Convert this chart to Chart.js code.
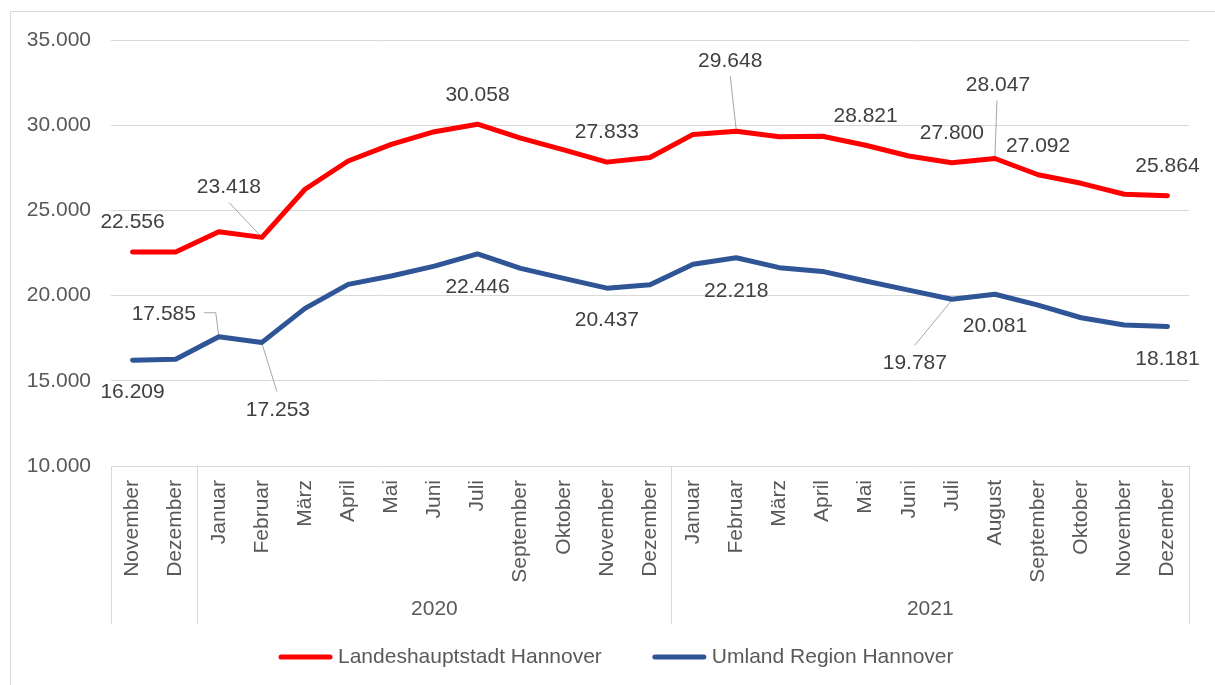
<!DOCTYPE html>
<html>
<head>
<meta charset="utf-8">
<script src="https://cdn.jsdelivr.net/npm/chart.js@4.4.0/dist/chart.umd.min.js"></script>
<style>
  html, body { margin: 0; padding: 0; background: #fff; overflow: hidden; }
</style>
</head>
<body>
<canvas id="lineChart" width="1215" height="685"></canvas>
<script>
// categories: Nov/Dez 2019, 2020 (no August in source), 2021
const months = ['November', 'Dezember',
  'Januar', 'Februar', 'März', 'April', 'Mai', 'Juni', 'Juli', 'September', 'Oktober', 'November', 'Dezember',
  'Januar', 'Februar', 'März', 'April', 'Mai', 'Juni', 'Juli', 'August', 'September', 'Oktober', 'November', 'Dezember'];

const years = [
  { label: '', from: 0, to: 1 },
  { label: '2020', from: 2, to: 12 },
  { label: '2021', from: 13, to: 24 },
];

const hannover = [22556, 22560, 23750, 23418, 26240, 27900, 28870, 29620, 30058, 29240, 28550, 27833, 28100,
  29460, 29648, 29320, 29350, 28821, 28190, 27800, 28047, 27092, 26590, 25950, 25864];
const umland = [16209, 16260, 17585, 17253, 19250, 20660, 21150, 21730, 22446, 21600, 21010, 20437, 20630,
  21840, 22218, 21640, 21420, 20860, 20320, 19787, 20081, 19440, 18700, 18270, 18181];

// which points get a value label: [dx, dy, leader line points] relative to the point
const labelPos = [
  { 0: [0, -30], 3: [-33, -50, [[-33, -35], [0, 0]]], 8: [0, -29], 11: [0, -30],
    14: [-6, -70, [[-6, -55], [0, -1]]], 17: [0, -29], 19: [0, -29],
    20: [3, -73, [[2, -58], [0, -2]]], 21: [0, -29], 24: [0, -29] },
  { 0: [0, 32], 2: [-55, -23, [[-15, -24], [-3, -24], [0, 0]]], 3: [16, 68, [[15, 49], [0, 1]]],
    8: [0, 33], 11: [0, 32], 14: [0, 33], 19: [-37, 64, [[-37, 46], [0, 1]]], 20: [0, 32], 24: [0, 33] },
];

const FONT = "'Liberation Sans', Arial, sans-serif";
Chart.defaults.font.family = FONT;
Chart.defaults.font.size = 21;
Chart.defaults.color = '#595959';

const fmt = v => String(Math.round(v)).replace(/\B(?=(\d{3})+(?!\d))/g, '.');

const sepIdx = years.map(g => g.from).concat(months.length);

const frame = {
  id: 'frame',
  beforeDraw(chart) {
    const c = chart.ctx;
    c.save();
    c.strokeStyle = '#d9d9d9';
    c.lineWidth = 1;
    c.strokeRect(10.5, 11.5, 1400, 900);
    c.restore();
  }
};

const yearLabels = {
  id: 'yearLabels',
  afterDraw(chart) {
    const x = chart.scales.x, c = chart.ctx;
    c.save();
    c.font = '21px ' + FONT;
    c.fillStyle = '#595959';
    c.textAlign = 'center';
    c.textBaseline = 'middle';
    years.forEach(g => {
      if (!g.label) return;
      const cx = (x.getPixelForValue(g.from) + x.getPixelForValue(g.to)) / 2;
      c.fillText(g.label, cx, x.top + 143);
    });
    c.restore();
  }
};

const pointLabels = {
  id: 'pointLabels',
  beforeDatasetsDraw(chart) {
    const c = chart.ctx;
    c.save();
    c.strokeStyle = '#a6a6a6';
    c.lineWidth = 1;
    chart.data.datasets.forEach((ds, di) => {
      const meta = chart.getDatasetMeta(di);
      Object.entries(labelPos[di]).forEach(([k, pos]) => {
        const p = meta.data[+k], leader = pos[2];
        if (!leader) return;
        c.beginPath();
        leader.forEach(([lx, ly], j) => j ? c.lineTo(p.x + lx, p.y + ly) : c.moveTo(p.x + lx, p.y + ly));
        c.stroke();
      });
    });
    c.restore();
  },
  afterDatasetsDraw(chart) {
    const c = chart.ctx;
    c.save();
    c.font = '21px ' + FONT;
    c.fillStyle = '#404040';
    c.textAlign = 'center';
    c.textBaseline = 'middle';
    chart.data.datasets.forEach((ds, di) => {
      const meta = chart.getDatasetMeta(di);
      Object.entries(labelPos[di]).forEach(([k, pos]) => {
        const p = meta.data[+k];
        c.fillText(fmt(ds.data[+k]), p.x + pos[0], p.y + pos[1]);
      });
    });
    c.restore();
  }
};

const legendRow = {
  id: 'legendRow',
  afterDraw(chart) {
    const c = chart.ctx, y = 657;
    let x = 278;
    c.save();
    c.font = '21px ' + FONT;
    c.textAlign = 'left';
    c.textBaseline = 'middle';
    chart.data.datasets.forEach(ds => {
      c.strokeStyle = ds.borderColor;
      c.lineWidth = 5;
      c.lineCap = 'round';
      c.beginPath();
      c.moveTo(x + 3, y);
      c.lineTo(x + 52, y);
      c.stroke();
      c.fillStyle = '#595959';
      c.fillText(ds.label, x + 60, y);
      x += 60 + c.measureText(ds.label).width + 50;
    });
    c.restore();
  }
};

new Chart(document.getElementById('lineChart'), {
  type: 'line',
  data: {
    labels: months,
    datasets: [
      {
        label: 'Landeshauptstadt Hannover',
        data: hannover,
        borderColor: '#ff0000',
        backgroundColor: '#ff0000',
        borderWidth: 5,
        pointRadius: 0,
        borderCapStyle: 'round',
        borderJoinStyle: 'round',
        tension: 0,
      },
      {
        label: 'Umland Region Hannover',
        data: umland,
        borderColor: '#2f5597',
        backgroundColor: '#2f5597',
        borderWidth: 5,
        pointRadius: 0,
        borderCapStyle: 'round',
        borderJoinStyle: 'round',
        tension: 0,
      },
    ],
  },
  options: {
    responsive: false,
    animation: false,
    layout: { padding: { top: 40, left: 10, right: 26, bottom: 60 } },
    plugins: {
      legend: { display: false },
      tooltip: { enabled: false },
    },
    scales: {
      x: {
        offset: true,
        grid: {
          offset: true,
          drawOnChartArea: false,
          tickLength: 158,
          tickColor: ctx => sepIdx.includes(ctx.index ?? months.length) ? '#d9d9d9' : 'rgba(0,0,0,0)',
        },
        border: { display: false },
        ticks: { autoSkip: false, minRotation: 90, maxRotation: 90, padding: -144, color: '#595959' },
        afterFit: s => { s.height = 159; },
      },
      y: {
        min: 10000,
        max: 35000,
        ticks: { stepSize: 5000, padding: 20, color: '#595959', callback: v => fmt(v) },
        grid: { color: '#d9d9d9', drawTicks: false },
        border: { display: false },
        afterFit: s => { s.width = 101; },
      },
    },
  },
  plugins: [frame, yearLabels, pointLabels, legendRow],
});
</script>
</body>
</html>
